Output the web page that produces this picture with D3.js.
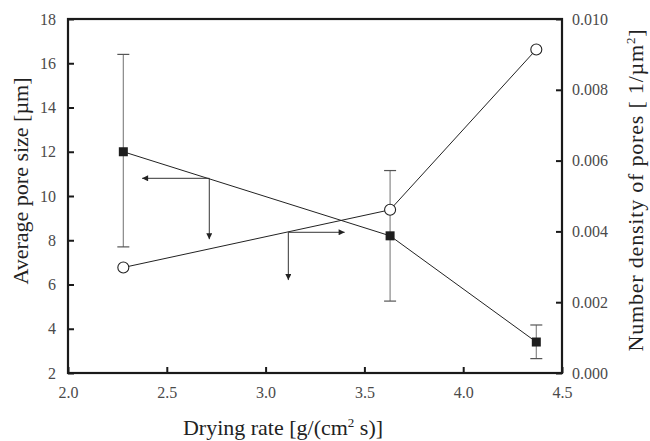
<!DOCTYPE html>
<html>
<head>
<meta charset="utf-8">
<script src="https://cdn.jsdelivr.net/npm/d3@7"></script>
<style>
  body { margin: 0; background: #fff; }
  svg { font-family: "Liberation Serif", "Times New Roman", serif; }
</style>
</head>
<body>
<div id="chart"></div>
<script>
// drying rates (x)
const dryingRate = [2.28, 3.63, 4.37]
// average pore size, left axis, with error bars
const poreSize = [12.0, 8.2, 3.4]
const poreLow = [7.7, 5.25, 2.65]
const poreHigh = [16.4, 11.15, 4.17]
// number density of pores, right axis
const poreDensity = [0.00298, 0.00461, 0.00914]

const xTicks = [2.0, 2.5, 3.0, 3.5, 4.0, 4.5]
const yLeftTicks = [2, 4, 6, 8, 10, 12, 14, 16, 18]
const yRightTicks = [0, 0.002, 0.004, 0.006, 0.008, 0.010]

// arrows pointing to the axis each curve belongs to (in left-axis data units)
const arrowCorners = [[2.715, 10.8], [3.115, 8.36]]
const arrowSideEnds = [2.375, 3.40]
const arrowDownEnds = [8.05, 6.2]

const width = 650, height = 441
const margin = { top: 19, right: 88, bottom: 68, left: 68 }

const svg = d3.select("#chart").append("svg")
  .attr("width", width)
  .attr("height", height)

const x = d3.scaleLinear().domain([2.0, 4.5]).range([margin.left, width - margin.right])
const yL = d3.scaleLinear().domain([2, 18]).range([height - margin.bottom, margin.top])
const yR = d3.scaleLinear().domain([0, 0.010]).range([height - margin.bottom, margin.top])

const ink = "#1a1a1a"
const tickColor = "#4a4a4a"
const serif = "'Liberation Serif', 'Times New Roman', serif"

// axes, ticks inward
const xAxis = svg.append("g")
  .attr("transform", `translate(0,${yL.range()[0]})`)
  .call(d3.axisBottom(x).tickValues(xTicks).tickSizeInner(-6).tickSizeOuter(0).tickPadding(14)
    .tickFormat(d3.format(".1f")))
const leftAxis = svg.append("g")
  .attr("transform", `translate(${margin.left},0)`)
  .call(d3.axisLeft(yL).tickValues(yLeftTicks).tickSizeInner(-6).tickSizeOuter(0).tickPadding(12))
const rightAxis = svg.append("g")
  .attr("transform", `translate(${x.range()[1]},0)`)
  .call(d3.axisRight(yR).tickValues(yRightTicks).tickSizeInner(-6).tickSizeOuter(0).tickPadding(10)
    .tickFormat(d3.format(".3f")))

for (const g of [xAxis, leftAxis, rightAxis]) {
  g.attr("font-family", serif).attr("font-size", 16)
  g.select(".domain").remove()
  g.selectAll(".tick line").attr("stroke", ink).attr("stroke-width", 2)
  g.selectAll(".tick text").attr("fill", tickColor)
}

// frame
svg.append("rect")
  .attr("x", x.range()[0])
  .attr("y", yL.range()[1])
  .attr("width", x.range()[1] - x.range()[0])
  .attr("height", yL.range()[0] - yL.range()[1])
  .attr("fill", "none")
  .attr("stroke", ink)
  .attr("stroke-width", 2.2)

// error bars
const errG = svg.append("g").attr("stroke", "#888").attr("stroke-width", 1.2)
dryingRate.forEach((d, i) => {
  errG.append("line").attr("x1", x(d)).attr("x2", x(d)).attr("y1", yL(poreLow[i])).attr("y2", yL(poreHigh[i]))
  for (const v of [poreLow[i], poreHigh[i]]) {
    errG.append("line").attr("x1", x(d) - 6).attr("x2", x(d) + 6).attr("y1", yL(v)).attr("y2", yL(v))
      .attr("stroke", "#555")
  }
})

// lines
const lineL = d3.line().x((d, i) => x(dryingRate[i])).y(d => yL(d))
const lineR = d3.line().x((d, i) => x(dryingRate[i])).y(d => yR(d))
svg.append("path").attr("d", lineL(poreSize)).attr("fill", "none").attr("stroke", "#222").attr("stroke-width", 1)
svg.append("path").attr("d", lineR(poreDensity)).attr("fill", "none").attr("stroke", "#222").attr("stroke-width", 1)

// arrows
svg.append("defs").append("marker")
  .attr("id", "head")
  .attr("viewBox", "0 0 10 10")
  .attr("refX", 10).attr("refY", 5)
  .attr("markerWidth", 9).attr("markerHeight", 6)
  .attr("markerUnits", "userSpaceOnUse")
  .attr("orient", "auto")
  .append("path").attr("d", "M0,0L10,5L0,10Z").attr("fill", "#222")

arrowCorners.forEach((c, i) => {
  const g = svg.append("g").attr("stroke", "#333").attr("stroke-width", 1)
  g.append("line").attr("x1", x(c[0])).attr("y1", yL(c[1])).attr("x2", x(arrowSideEnds[i])).attr("y2", yL(c[1]))
    .attr("marker-end", "url(#head)")
  g.append("line").attr("x1", x(c[0])).attr("y1", yL(c[1])).attr("x2", x(c[0])).attr("y2", yL(arrowDownEnds[i]))
    .attr("marker-end", "url(#head)")
})

// markers
svg.append("g").selectAll("rect")
  .data(poreSize)
  .join("rect")
  .attr("x", (d, i) => x(dryingRate[i]) - 4.5)
  .attr("y", d => yL(d) - 4.5)
  .attr("width", 9).attr("height", 9)
  .attr("fill", "#1e1e1e")
svg.append("g").selectAll("circle")
  .data(poreDensity)
  .join("circle")
  .attr("cx", (d, i) => x(dryingRate[i]))
  .attr("cy", d => yR(d))
  .attr("r", 5.5)
  .attr("fill", "#fff")
  .attr("stroke", "#222")
  .attr("stroke-width", 1.1)

// axis titles
const titleColor = "#222"
const xTitle = svg.append("text")
  .attr("x", 283)
  .attr("y", 435)
  .attr("text-anchor", "middle")
  .attr("fill", titleColor)
  .style("font-size", "22px")
xTitle.append("tspan").text("Drying rate [g/(cm")
xTitle.append("tspan").attr("dy", -8).style("font-size", "13px").text("2")
xTitle.append("tspan").attr("dy", 8).text(" s)]")

svg.append("text")
  .attr("transform", "translate(28,181) rotate(-90)")
  .attr("text-anchor", "middle")
  .attr("fill", titleColor)
  .style("font-size", "22px")
  .text("Average pore size [µm]")

const rTitle = svg.append("text")
  .attr("transform", "translate(643,190) rotate(-90)")
  .attr("text-anchor", "middle")
  .attr("fill", titleColor)
  .style("font-size", "22px")
  .style("letter-spacing", "0.8px")
rTitle.append("tspan").text("Number density of pores [ 1/µm")
rTitle.append("tspan").attr("dy", -8).style("font-size", "13px").text("2")
rTitle.append("tspan").attr("dy", 8).text("]")
</script>
</body>
</html>
